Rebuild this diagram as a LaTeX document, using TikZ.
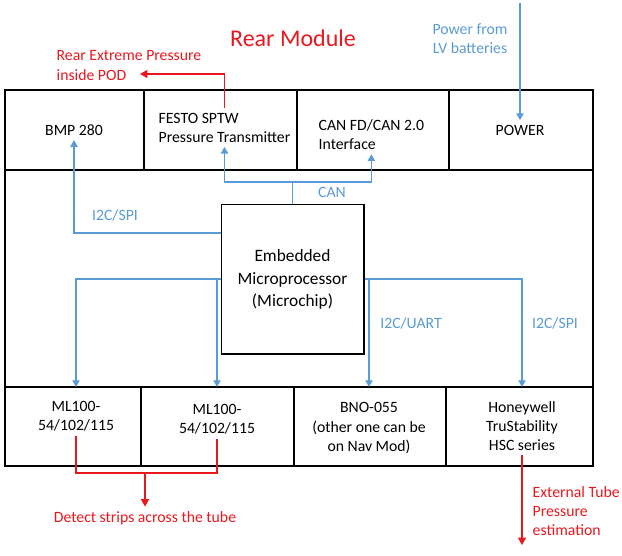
\documentclass[tikz,border=0pt]{standalone}
\usepackage{fontspec}
\setmainfont{Carlito}
\usetikzlibrary{arrows.meta}
\definecolor{wireblue}{RGB}{91,155,213}
\definecolor{notered}{RGB}{232,24,30}
\tikzset{
	txt/.style={font=\fontsize{11.8}{14.3}\selectfont,align=center},
	bluelbl/.style={txt,text=wireblue},
	redlbl/.style={txt,text=notered},
	bus/.style={draw=wireblue,line width=0.9pt},
	busarrow/.style={bus,-{Triangle[length=5pt,width=5.5pt]}},
	note/.style={draw=notered,line width=0.9pt},
	notearrow/.style={note,-{Triangle[length=5.5pt,width=6pt]}}
}
\begin{document}
\begin{tikzpicture}[x=0.75pt,y=-0.75pt]
	\useasboundingbox (0,0) rectangle (622,556) ;
	\coordinate (yI2C) at (0,233) ;
	\coordinate (yCAN) at (0,182) ;
	\coordinate (yLow) at (0,279) ;
	\coordinate (rowB) at (0,387) ;
	\coordinate (yStrip) at (0,473) ;
	\coordinate (pwrTop) at (520,3) ;
	\coordinate (podTip) at (140,74) ;
	\coordinate (extTip) at (522,545) ;
	% module frame
	\draw[line width=1pt] (5,90) rectangle (593,466) (5,170)--(593,170) (5,387)--(593,387)
	(144,90)--(144,170) (297,90)--(297,170) (449,90)--(449,170)
	(141,387)--(141,466) (294,387)--(294,466) (446,387)--(446,466) ;
	% blocks
	\node[txt] (bmp) at (74,130) {BMP 280} ;
	\node[txt,align=left,anchor=west] (festo) at (154,127.5) {FESTO SPTW\\Pressure Transmitter} ;
	\node[txt,align=left,anchor=west] (canfd) at (314,134.5) {CAN FD/CAN 2.0\\Interface} ;
	\node[txt] (power) at (520,130) {POWER} ;
	\node[draw,line width=1pt,minimum width=107pt,minimum height=112pt,align=center,
		font=\fontsize{13}{17}\selectfont] (micro) at (292.5,279.5) {Embedded\\Microprocessor\\(Microchip)} ;
	\node[txt] (mlA) at (76,416.5) {ML100-\\54/102/115} ;
	\node[txt] (mlB) at (217,419) {ML100-\\54/102/115} ;
	\node[txt] (bno) at (369,428) {BNO-055\\(other one can be\\on Nav Mod)} ;
	\node[txt] (hsc) at (522,426) {Honeywell\\TruStability\\HSC series} ;
	% labels
	\node[redlbl,font=\fontsize{18}{22}\selectfont] (title) at (293,38) {Rear Module} ;
	\node[redlbl,align=left,anchor=west] (rearp) at (52,65.5) {Rear Extreme Pressure\\inside POD} ;
	\node[bluelbl] (pwrlbl) at (470,39) {Power from\\LV batteries} ;
	\node[bluelbl] (i2cA) at (115,215) {I2C/SPI} ;
	\node[bluelbl] (canlbl) at (332,192) {CAN} ;
	\node[bluelbl] (uart) at (411,323) {I2C/UART} ;
	\node[bluelbl] (i2cB) at (555,323) {I2C/SPI} ;
	\node[redlbl] (strips) at (145,518) {Detect strips across the tube} ;
	\node[redlbl,align=left,anchor=west] (ext) at (528,511) {External Tube\\Pressure\\estimation} ;
	% buses
	\draw[busarrow] (micro.west |- yI2C) -| (bmp.south) ;
	\draw[busarrow] (micro.north) |- (festo.south |- yCAN) -- (festo.south) ;
	\draw[busarrow] (micro.north |- yCAN) -| (canfd.south) ;
	\draw[busarrow] (micro.west |- yLow) -| (mlA.north |- rowB) ;
	\draw[busarrow] (mlB.north |- yLow) -- (mlB.north |- rowB) ;
	\draw[busarrow] (micro.east |- yLow) -| (hsc.north |- rowB) ;
	\draw[busarrow] (bno.north |- yLow) -- (bno.north |- rowB) ;
	\draw[busarrow] (pwrTop) -- (power.north) ;
	% outputs
	\draw[notearrow] (festo.north) |- (podTip) ;
	\draw[note] (mlA.south) |- (mlB.south |- yStrip) -- (mlB.south) ;
	\draw[notearrow] (strips.north |- yStrip) -- (strips.north) ;
	\draw[notearrow] (hsc.south) -- (extTip) ;
\end{tikzpicture}
\end{document}
